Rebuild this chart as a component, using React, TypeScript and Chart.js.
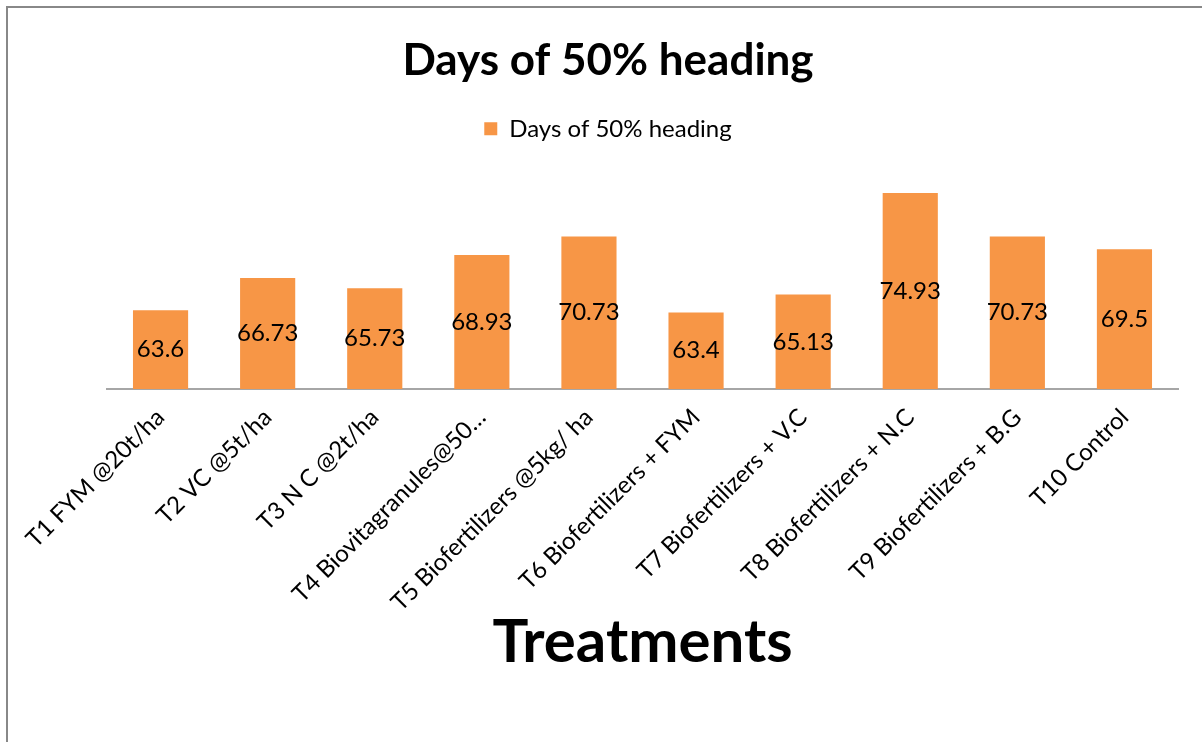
import React, { useEffect, useRef } from "react";
import { Chart, registerables } from "chart.js";

Chart.register(...registerables);

const treatments = [
  "T1 FYM @20t/ha",
  "T2 VC @5t/ha",
  "T3 N C @2t/ha",
  "T4 Biovitagranules@50…",
  "T5 Biofertilizers @5kg/ ha",
  "T6 Biofertilizers + FYM",
  "T7 Biofertilizers + V.C",
  "T8 Biofertilizers + N.C",
  "T9 Biofertilizers + B.G",
  "T10 Control",
];

const daysTo50Heading = [63.6, 66.73, 65.73, 68.93, 70.73, 63.4, 65.13, 74.93, 70.73, 69.5];

const seriesName = "Days of 50% heading";
const chartTitle = "Days of 50% heading";
const xAxisTitle = "Treatments";

const FONT = "Lato";

// Writes each bar's value in the middle of the visible bar.
const barValueLabels = {
  id: "barValueLabels",
  afterDatasetsDraw(chart: any) {
    const { ctx, chartArea } = chart;
    const meta = chart.getDatasetMeta(0);
    const data = chart.data.datasets[0].data as number[];
    ctx.save();
    ctx.font = `24px ${FONT}`;
    ctx.fillStyle = "#000000";
    ctx.textAlign = "center";
    ctx.textBaseline = "middle";
    meta.data.forEach((bar: any, i: number) => {
      const p = bar.getProps(["x", "y", "base"], true);
      const bottom = Math.min(p.base, chartArea.bottom);
      ctx.fillText(String(data[i]), p.x, (p.y + bottom) / 2);
    });
    ctx.restore();
  },
};

// Leaves extra room between the legend and the plot.
const legendGap = {
  id: "legendGap",
  afterInit(chart: any) {
    const legend = chart.legend;
    if (!legend) return;
    const fit = legend.fit;
    legend.fit = function () {
      fit.call(this);
      this.height += 31;
    };
  },
};

export default function App() {
  const canvasRef = useRef<HTMLCanvasElement | null>(null);

  useEffect(() => {
    if (!canvasRef.current) return;
    const chart = new Chart(canvasRef.current, {
      type: "bar",
      data: {
        labels: treatments,
        datasets: [
          {
            label: seriesName,
            data: daysTo50Heading,
            backgroundColor: "#F79646",
            borderWidth: 0,
            categoryPercentage: 1,
            barPercentage: 0.515,
          },
        ],
      },
      options: {
        animation: false,
        responsive: false,
        maintainAspectRatio: false,
        layout: { padding: { left: 38, right: 24, top: 0, bottom: 57 } },
        plugins: {
          title: {
            display: true,
            text: chartTitle,
            color: "#000000",
            font: { family: FONT, size: 44, weight: "bold" },
            padding: { top: 34, bottom: 20 },
          },
          legend: {
            display: true,
            position: "top",
            labels: {
              color: "#000000",
              font: { family: FONT, size: 24 },
              boxWidth: 13,
              boxHeight: 13,
              padding: 10,
            },
          },
          tooltip: { enabled: false },
        },
        scales: {
          x: {
            grid: { display: false },
            border: { display: true, color: "#a6a6a6", width: 2 },
            ticks: {
              color: "#000000",
              font: { family: FONT, size: 24 },
              autoSkip: false,
              minRotation: 45,
              maxRotation: 45,
              padding: 6,
            },
            title: {
              display: true,
              text: xAxisTitle,
              color: "#000000",
              font: { family: FONT, size: 60, weight: "bold" },
              padding: { top: -16, bottom: 6 },
            },
          },
          y: {
            display: true,
            min: 56,
            max: 76,
            grid: { display: false },
            border: { display: false },
            ticks: { display: false },
            afterFit(scale: any) {
              scale.width = 69;
            },
          },
        },
      },
      plugins: [barValueLabels, legendGap],
    });
    return () => chart.destroy();
  }, []);

  return (
    <div style={{ position: "fixed", left: 0, top: 0, width: 1202, height: 742, background: "#ffffff" }}>
      <div
        style={{
          position: "absolute",
          left: 6,
          top: 6,
          right: 0,
          bottom: 0,
          borderLeft: "2px solid #888888",
          borderTop: "2px solid #888888",
        }}
      />
      <canvas ref={canvasRef} width={1202} height={742} style={{ position: "absolute", left: 0, top: 0 }} />
    </div>
  );
}
